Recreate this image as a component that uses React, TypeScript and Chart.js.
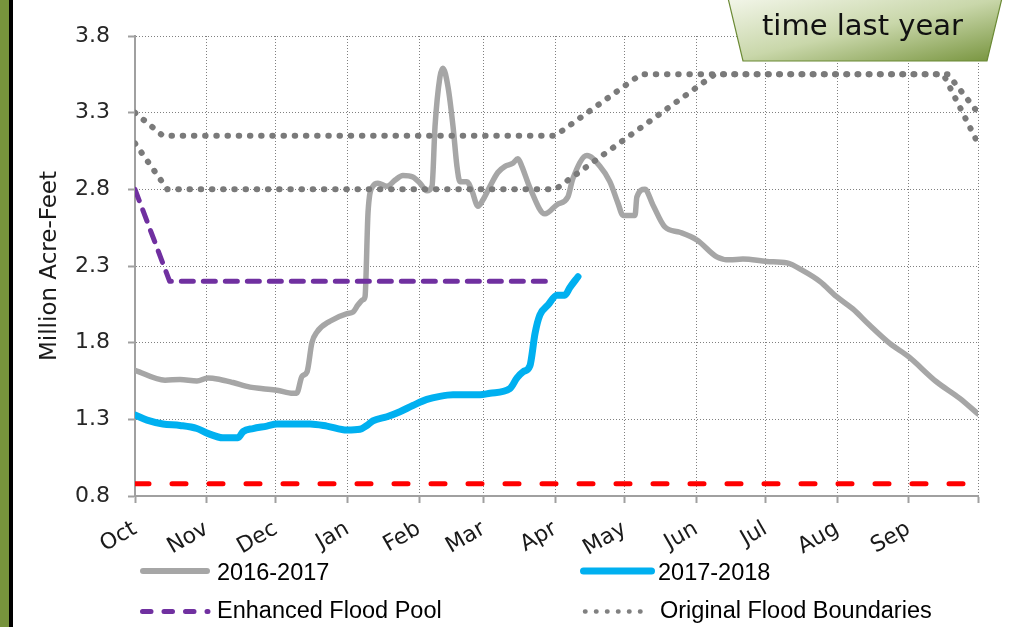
import React, { useEffect, useRef } from "react";
import { Chart, registerables } from "chart.js";

Chart.register(...registerables);

// ---- axis ticks ----
const monthTickDays = [0, 31, 61, 92, 123, 151, 182, 212, 243, 273, 304, 335, 365];
const monthLabels = ["Oct", "Nov", "Dec", "Jan", "Feb", "Mar", "Apr", "May", "Jun", "Jul", "Aug", "Sep", ""];
const yTickValues = [0.8, 1.3, 1.8, 2.3, 2.8, 3.3, 3.8];

// ---- 2016-2017 (day of water year, million acre-feet) ----
const days1617 = [0, 13, 19.5, 26.8, 31.6, 36.8, 42.4, 49.8, 55.4, 61.5, 68.4, 70, 72.3, 74.5, 76.6, 78.8, 84.4, 91.8, 94.4, 96.5, 98.7, 99.6, 100.9, 103, 105.2, 109.1, 112.6, 116, 120.3, 123.4, 126.4, 128.6, 129.9, 132, 133.3, 135.5, 137.7, 139.4, 140.7, 143.7, 145.9, 148.5, 150.6, 153.7, 157.1, 160.2, 163.6, 165.8, 167.5, 171, 177.5, 182.7, 187.4, 189.6, 195.7, 201.3, 205.6, 209.1, 211.3, 216.5, 217.3, 220.8, 224.2, 229.4, 235.9, 243.3, 251.9, 257.6, 263.2, 273.6, 282.3, 289.2, 296.5, 303.8, 310.8, 318, 326.8, 334.8, 347, 357.1, 365];
const values1617 = [1.62, 1.555, 1.56, 1.55, 1.57, 1.56, 1.54, 1.51, 1.5, 1.49, 1.47, 1.47, 1.58, 1.61, 1.8, 1.87, 1.94, 1.99, 2.0, 2.045, 2.08, 2.1, 2.65, 2.82, 2.84, 2.82, 2.86, 2.89, 2.88, 2.84, 2.79, 2.82, 3.21, 3.53, 3.59, 3.47, 3.21, 2.95, 2.85, 2.85, 2.79, 2.69, 2.73, 2.82, 2.91, 2.95, 2.97, 3.0, 2.95, 2.81, 2.64, 2.7, 2.75, 2.87, 3.02, 2.95, 2.85, 2.71, 2.63, 2.63, 2.75, 2.8, 2.7, 2.555, 2.52, 2.47, 2.36, 2.34, 2.345, 2.33, 2.32, 2.27, 2.2, 2.1, 2.02, 1.915, 1.795, 1.71, 1.545, 1.437, 1.335];

// ---- 2017-2018 ----
const days1718 = [0, 5.2, 12.1, 19.5, 26.8, 31.2, 38.1, 44.6, 46.8, 51.1, 57.1, 61.5, 68.4, 75.8, 83.1, 91.8, 97.4, 100.4, 103, 109.1, 114.7, 120.3, 126.4, 132, 137.7, 143.7, 149.4, 153.7, 162.3, 165.4, 168, 171, 173.2, 175.3, 178.8, 182.7, 186.1, 188.3, 191.8];
const values1718 = [1.328, 1.295, 1.27, 1.26, 1.24, 1.21, 1.18, 1.18, 1.22, 1.24, 1.256, 1.27, 1.27, 1.27, 1.256, 1.23, 1.235, 1.26, 1.29, 1.317, 1.35, 1.39, 1.43, 1.45, 1.46, 1.46, 1.46, 1.47, 1.5, 1.57, 1.61, 1.65, 1.86, 1.98, 2.045, 2.11, 2.11, 2.16, 2.23];

// ---- Enhanced flood pool ----
const floodPoolDays = [0, 15, 179];
const floodPoolValues = [2.8, 2.2, 2.2];

// ---- Original flood boundaries (two curves) ----
const boundaryADays = [0, 12, 182, 219, 352, 365];
const boundaryAValues = [3.3, 3.15, 3.15, 3.55, 3.55, 3.3];
const boundaryBDays = [0, 14, 182, 251, 350, 365];
const boundaryBValues = [3.1, 2.8, 2.8, 3.55, 3.55, 3.1];

// ---- red dashed minimum line ----
const minLineDays = [0, 365];
const minLineValues = [0.88, 0.88];

const toXY = (xs: number[], ys: number[]) => xs.map((x, i) => ({ x, y: ys[i] }));

const TICK_FONT = "'DejaVu Sans', sans-serif";
const LEGEND_FONT = "'Liberation Sans', Arial, sans-serif";

export default function App() {
  const ref = useRef<HTMLCanvasElement>(null);

  useEffect(() => {
    if (!ref.current) return;
    const gridCommon = {
      color: "#808080",
      lineWidth: 1,
      drawTicks: true,
      tickLength: 7,
      tickColor: "#a0a0a0",
      tickWidth: 2,
    };
    const borderCommon = { display: true, color: "#a0a0a0", width: 2, dash: [1, 2] };
    const chart = new Chart(ref.current, {
      type: "line",
      data: {
        datasets: [
          {
            label: "min",
            data: toXY(minLineDays, minLineValues),
            borderColor: "#ff0000",
            borderWidth: 5,
            borderDash: [14, 23],
            borderCapStyle: "round",
            pointRadius: 0,
            fill: false,
          },
          {
            label: "2017-2018",
            data: toXY(days1718, values1718),
            borderColor: "#00b0f0",
            borderWidth: 7,
            borderCapStyle: "round",
            borderJoinStyle: "round",
            cubicInterpolationMode: "monotone",
            pointRadius: 0,
            fill: false,
          },
          {
            label: "Enhanced Flood Pool",
            data: toXY(floodPoolDays, floodPoolValues),
            borderColor: "#7030a0",
            borderWidth: 5,
            borderDash: [12, 10],
            borderCapStyle: "round",
            borderJoinStyle: "round",
            pointRadius: 0,
            fill: false,
          },
          {
            label: "Original Flood Boundaries",
            data: toXY(boundaryADays, boundaryAValues),
            borderColor: "#7a7a7a",
            borderWidth: 6,
            borderDash: [0.5, 10.7],
            borderCapStyle: "round",
            pointRadius: 0,
            fill: false,
          },
          {
            label: "Original Flood Boundaries B",
            data: toXY(boundaryBDays, boundaryBValues),
            borderColor: "#7a7a7a",
            borderWidth: 6,
            borderDash: [0.5, 10.7],
            borderCapStyle: "round",
            pointRadius: 0,
            fill: false,
          },
          {
            label: "2016-2017",
            data: toXY(days1617, values1617),
            borderColor: "#a6a6a6",
            borderWidth: 5.5,
            borderCapStyle: "round",
            borderJoinStyle: "round",
            cubicInterpolationMode: "monotone",
            pointRadius: 0,
            fill: false,
          },
        ],
      },
      options: {
        animation: false,
        responsive: false,
        maintainAspectRatio: false,
        devicePixelRatio: 1,
        layout: { padding: { left: 32, top: 36, right: 43, bottom: 0 } },
        plugins: { legend: { display: false }, tooltip: { enabled: false } },
        scales: {
          x: {
            type: "linear",
            min: 0,
            max: 365,
            afterBuildTicks: (s: any) => {
              s.ticks = monthTickDays.map((v) => ({ value: v }));
            },
            afterFit: (s: any) => {
              s.height = 131;
            },
            ticks: {
              autoSkip: false,
              minRotation: 30,
              maxRotation: 30,
              padding: 13,
              color: "#1a1a1a",
              font: { family: TICK_FONT, size: 22 },
              callback: (_v: any, i: number) => monthLabels[i] ?? "",
            },
            grid: gridCommon,
            border: borderCommon,
          },
          y: {
            type: "linear",
            min: 0.8,
            max: 3.8,
            afterBuildTicks: (s: any) => {
              s.ticks = yTickValues.map((v) => ({ value: v }));
            },
            afterFit: (s: any) => {
              s.width = 103;
            },
            ticks: {
              padding: 18,
              color: "#262626",
              font: { family: TICK_FONT, size: 22 },
              callback: (v: any) => Number(v).toFixed(1),
            },
            title: {
              display: true,
              text: "Million Acre-Feet",
              color: "#1a1a1a",
              font: { family: TICK_FONT, size: 23 },
              padding: { top: 4, bottom: 4 },
            },
            grid: gridCommon,
            border: borderCommon,
          },
        },
      },
    } as any);
    return () => chart.destroy();
  }, []);

  return (
    <div style={{ position: "relative", width: 1021, height: 627, background: "#ffffff", overflow: "hidden" }}>
      <style>{`body{margin:0;}`}</style>
      <canvas ref={ref} width={1021} height={627} style={{ position: "absolute", left: 0, top: 0 }} />
      <svg width={1021} height={627} style={{ position: "absolute", left: 0, top: 0, pointerEvents: "none" }}>
        <defs>
          <linearGradient id="boxGrad" x1="0" y1="0" x2="1" y2="1">
            <stop offset="0" stopColor="#f3f6ea" />
            <stop offset="0.5" stopColor="#c9d7aa" />
            <stop offset="1" stopColor="#76933c" />
          </linearGradient>
        </defs>
        {/* left frame strip */}
        <rect x={0} y={0} width={9} height={627} fill="#77933c" />
        <rect x={9} y={0} width={4} height={627} fill="#000000" />
        {/* top-right callout */}
        <polygon points="728,-2 1002,-2 987,61 743,61" fill="url(#boxGrad)" stroke="#6b8a35" strokeWidth={1.2} />
        <text x={762} y={35} fontFamily={TICK_FONT} fontSize={29} fill="#111111">time last year</text>
        {/* legend */}
        <line x1={143} y1={571} x2={207} y2={571} stroke="#a6a6a6" strokeWidth={6} strokeLinecap="round" />
        <text x={217} y={579.5} fontFamily={LEGEND_FONT} fontSize={23.5} fill="#000">2016-2017</text>
        <line x1={583.5} y1={571} x2={651.5} y2={571} stroke="#00b0f0" strokeWidth={7} strokeLinecap="round" />
        <text x={658} y={579.5} fontFamily={LEGEND_FONT} fontSize={23.5} fill="#000">2017-2018</text>
        <line x1={142.5} y1={611.5} x2={208} y2={611.5} stroke="#7030a0" strokeWidth={5} strokeLinecap="round" strokeDasharray="8.5 13" />
        <text x={217} y={618.3} fontFamily={LEGEND_FONT} fontSize={23.5} fill="#000">Enhanced Flood Pool</text>
        <line x1={585} y1={611.5} x2={641} y2={611.5} stroke="#808080" strokeWidth={4.5} strokeLinecap="round" strokeDasharray="0.5 10.5" />
        <text x={660} y={618.3} fontFamily={LEGEND_FONT} fontSize={23.5} fill="#000">Original Flood Boundaries</text>
      </svg>
    </div>
  );
}
